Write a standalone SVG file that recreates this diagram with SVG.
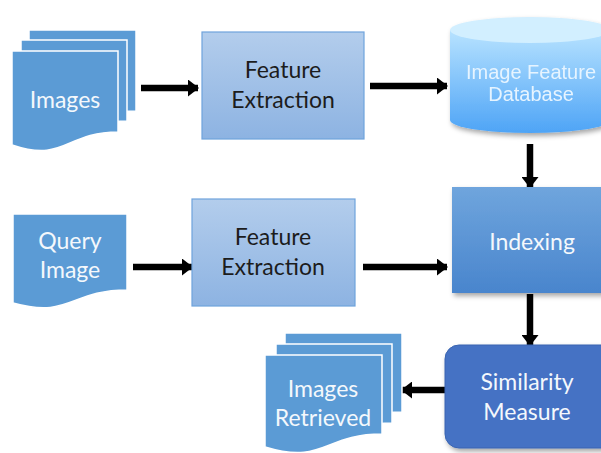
<svg xmlns="http://www.w3.org/2000/svg" width="601" height="453" viewBox="0 0 601 453">
  <defs>
    <linearGradient id="gFeat" x1="0" y1="0" x2="0" y2="1">
      <stop offset="0" stop-color="#b3cdec"/>
      <stop offset="1" stop-color="#8db3e2"/>
    </linearGradient>
    <linearGradient id="gIdx" x1="0" y1="0" x2="0" y2="1">
      <stop offset="0" stop-color="#6fa5dd"/>
      <stop offset="1" stop-color="#4985cd"/>
    </linearGradient>
    <linearGradient id="gDb" x1="0" y1="0" x2="0" y2="1">
      <stop offset="0" stop-color="#b8e3ff"/>
      <stop offset="1" stop-color="#4ea4f6"/>
    </linearGradient>
    <filter id="shadow" x="-20%" y="-20%" width="140%" height="140%">
      <feDropShadow dx="2" dy="3" stdDeviation="2.5" flood-color="#000" flood-opacity="0.35"/>
    </filter>
    <marker id="head" markerUnits="userSpaceOnUse" markerWidth="11" markerHeight="17" refX="10" refY="8.5" orient="auto">
      <path d="M0,0 L11,8.5 L0,17 Z" fill="#000"/>
    </marker>
  </defs>
  <style>
    .doc { fill: #5b9bd5; stroke: #ffffff; stroke-width: 1.5; }
    .feat { fill: url(#gFeat); stroke: #6fa3dc; stroke-width: 1.2; }
    .lbl { font-family: Lato, "Open Sans", sans-serif; font-size: 23px; text-anchor: middle; }
    .light { fill: #f4f8fc; }
    .dark { fill: #1c1c1c; }
    .db { font-family: "Liberation Sans", Arial, sans-serif; font-size: 20px; text-anchor: middle; fill: #e6f4ff; }
    .arrow { stroke: #000; stroke-width: 6.5; fill: none; marker-end: url(#head); }
  </style>

  <!-- Connectors -->
  <g id="connectors">
    <line class="arrow" x1="141" y1="88" x2="198" y2="88"/>
    <line class="arrow" x1="370" y1="86" x2="447" y2="86"/>
    <line class="arrow" x1="530" y1="144" x2="530" y2="187"/>
    <line class="arrow" x1="133" y1="267" x2="192" y2="267"/>
    <line class="arrow" x1="363" y1="267" x2="447" y2="267"/>
    <line class="arrow" x1="530" y1="294" x2="530" y2="345"/>
    <line class="arrow" x1="445" y1="390" x2="402" y2="390"/>
  </g>

  <!-- Multi-page document: Images -->
  <g id="images">
    <path class="doc" d="M29,30 H136 V111 C82,111 82,142 29,124 Z"/>
    <path class="doc" d="M21,40 H127 V121 C74,121 74,152 21,134 Z"/>
    <path class="doc" d="M12,51 H118 V132 C65,132 65,163 12,145 Z"/>
    <text class="lbl light" x="65" y="108">Images</text>
  </g>

  <g id="feature-extraction-1">
    <rect class="feat" x="202" y="32" width="162" height="107"/>
    <text class="lbl dark" x="283" y="78">Feature</text>
    <text class="lbl dark" x="283" y="108">Extraction</text>
  </g>

  <g id="image-feature-database" filter="url(#shadow)">
    <path d="M450,30 V120 A80,13 0 0 0 610,120 V30 Z" fill="url(#gDb)"/>
    <ellipse cx="530" cy="30" rx="80" ry="13" fill="#d2efff"/>
    <text class="db" x="531" y="79">Image Feature</text>
    <text class="db" x="531" y="101">Database</text>
  </g>

  <g id="query-image">
    <path class="doc" d="M13,214 H127 V290 C70,290 70,319 13,303 Z"/>
    <text class="lbl light" x="70" y="249">Query</text>
    <text class="lbl light" x="70" y="278">Image</text>
  </g>

  <g id="feature-extraction-2">
    <rect class="feat" x="192" y="199" width="163" height="107"/>
    <text class="lbl dark" x="273" y="245">Feature</text>
    <text class="lbl dark" x="273" y="275">Extraction</text>
  </g>

  <g id="indexing">
    <rect x="452" y="187" width="160" height="106" fill="url(#gIdx)" filter="url(#shadow)"/>
    <text class="lbl light" x="532" y="250">Indexing</text>
  </g>

  <g id="similarity-measure">
    <rect x="445" y="345" width="170" height="103" rx="14" fill="#4472c4" stroke="#3a64b0" stroke-width="1" filter="url(#shadow)"/>
    <text class="lbl light" x="527" y="390">Similarity</text>
    <text class="lbl light" x="527" y="420">Measure</text>
  </g>

  <!-- Multi-page document: Images Retrieved -->
  <g id="images-retrieved">
    <path class="doc" d="M285,333 H402 V412 C344,412 344,443 285,425 Z"/>
    <path class="doc" d="M276,344 H392 V423 C334,423 334,454 276,436 Z"/>
    <path class="doc" d="M265,355 H382 V434 C324,434 324,465 265,447 Z"/>
    <text class="lbl light" x="323" y="397">Images</text>
    <text class="lbl light" x="323" y="426">Retrieved</text>
  </g>
</svg>
